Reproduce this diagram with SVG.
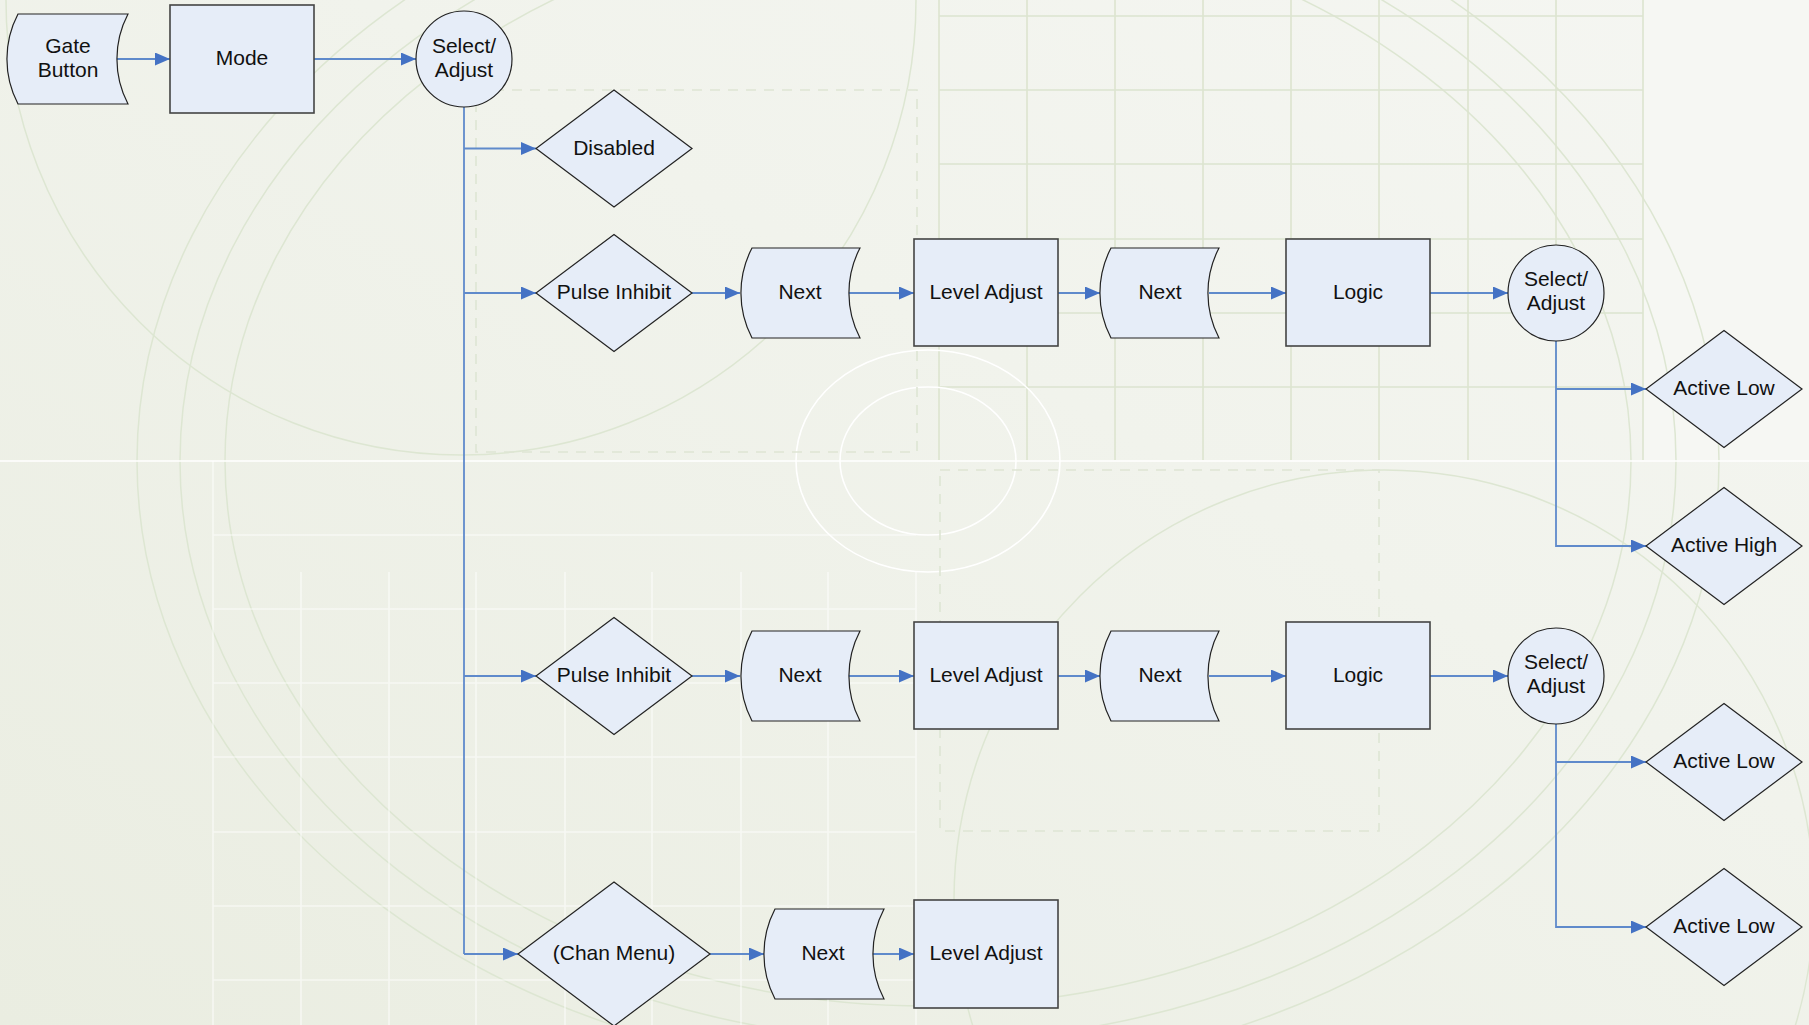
<svg xmlns="http://www.w3.org/2000/svg" width="1809" height="1025" viewBox="0 0 1809 1025">
<defs>
<linearGradient id="bg" x1="0" y1="1" x2="1" y2="0">
<stop offset="0" stop-color="#EAEDE1"/>
<stop offset="0.6" stop-color="#F1F3EC"/>
<stop offset="1" stop-color="#F5F6F2"/>
</linearGradient>
<marker id="ah" markerWidth="15" markerHeight="13" refX="15" refY="6.5" orient="auto" markerUnits="userSpaceOnUse">
<path d="M0,0 L15,6.5 L0,13 Z" fill="#4472C4"/>
</marker>
</defs>
<style>
.n{fill:#E6EDF8;stroke:#222;stroke-width:1.2}
.r{fill:#E6EDF8;stroke:#444;stroke-width:1.6}
.t{font-family:"Liberation Sans",Arial,sans-serif;font-size:21px;fill:#111;text-anchor:middle}
.c{fill:none;stroke:#5F8ACB;stroke-width:1.8}
.ca{fill:none;stroke:#5F8ACB;stroke-width:1.8;marker-end:url(#ah)}
.g{fill:none;stroke:#DCE4CF;stroke-width:1.6}
.w{fill:none;stroke:#FFFFFF;stroke-width:1.6;stroke-opacity:0.55}
.we{fill:none;stroke:#FFFFFF;stroke-width:1.6}
.arc{fill:none;stroke:#DDE6D2;stroke-width:1.5}
.d{fill:none;stroke:#DEE5D4;stroke-width:1.6;stroke-dasharray:10 8}
</style>
<g id="background">
<rect x="0" y="0" width="1809" height="1025" fill="url(#bg)"/>
<rect x="1643" y="0" width="166" height="460" fill="#F6F7F3"/>
<circle class="arc" cx="461" cy="0" r="455"/>
<circle class="arc" cx="1384" cy="900" r="430"/>
<ellipse class="arc" cx="928" cy="461" rx="703" ry="545"/>
<ellipse class="arc" cx="928" cy="461" rx="748" ry="580"/>
<ellipse class="arc" cx="928" cy="461" rx="791" ry="615"/>
<path class="g" d="M939,0V460M1027,0V460M1115,0V460M1203,0V460M1291,0V460M1379,0V460M1468,0V460M1556,0V460M1643,0V460M939,16H1643M939,90H1643M939,164H1643M939,239H1643M939,313H1643M939,387H1643"/>
<path class="we" d="M0,461H1809"/>
<path class="w" d="M213,461V1025M301,572V1025M389,572V1025M476,572V1025M565,572V1025M652,572V1025M741,572V1025M828,572V1025M916,572V1025M213,535H916M213,609H916M213,683H916M213,757H916M213,832H916M213,906H916M213,980H916"/>
<ellipse class="we" cx="928" cy="461" rx="132" ry="111"/>
<ellipse class="we" cx="928" cy="461" rx="88" ry="74"/>
<path class="d" d="M476,90H917V452H476Z"/>
<path class="d" d="M940,470H1379V831H940Z"/>
</g>
<g id="connectors">
<path class="ca" d="M117,59H170"/>
<path class="ca" d="M314,59H416"/>
<path class="c" d="M464,107V954"/>
<path class="ca" d="M464,148.5H536"/>
<path class="ca" d="M464,293H536"/>
<path class="ca" d="M464,676H536"/>
<path class="ca" d="M464,954H518"/>
<path class="ca" d="M692,293H740"/>
<path class="ca" d="M849,293H914"/>
<path class="ca" d="M1058,293H1100"/>
<path class="ca" d="M1209,293H1286"/>
<path class="ca" d="M1430,293H1508"/>
<path class="ca" d="M1556,341V546H1646"/>
<path class="ca" d="M1556,389H1646"/>
<path class="ca" d="M692,676H740"/>
<path class="ca" d="M849,676H914"/>
<path class="ca" d="M1058,676H1100"/>
<path class="ca" d="M1209,676H1286"/>
<path class="ca" d="M1430,676H1508"/>
<path class="ca" d="M1556,724V927H1646"/>
<path class="ca" d="M1556,762H1646"/>
<path class="ca" d="M710,954H764"/>
<path class="ca" d="M873,954H914"/>
</g>
<g id="gate-button">
<path class="n" d="M18,14H128A97 97 0 0 0 128,104H18A97 97 0 0 1 18,14Z"/>
<text class="t" x="68" y="52.5">Gate</text>
<text class="t" x="68" y="76.5">Button</text>
</g>
<g id="mode">
<rect class="r" x="170" y="5" width="144" height="108"/>
<text class="t" x="242" y="64.5">Mode</text>
</g>
<g id="select-adjust-1">
<circle class="n" cx="464" cy="59" r="48"/>
<text class="t" x="464" y="52.5">Select/</text>
<text class="t" x="464" y="76.5">Adjust</text>
</g>
<g id="disabled">
<path class="n" d="M614,90L692,148.5L614,207L536,148.5Z"/>
<text class="t" x="614" y="154.5">Disabled</text>
</g>
<g id="pulse-inhibit-1">
<path class="n" d="M614,234.5L692,293L614,351.5L536,293Z"/>
<text class="t" x="614" y="298.5">Pulse Inhibit</text>
</g>
<g id="next-1a">
<path class="n" d="M752,248H860A97 97 0 0 0 860,338H752A97 97 0 0 1 752,248Z"/>
<text class="t" x="800" y="298.5">Next</text>
</g>
<g id="level-adjust-1">
<rect class="r" x="914" y="239" width="144" height="107"/>
<text class="t" x="986" y="298.5">Level Adjust</text>
</g>
<g id="next-1b">
<path class="n" d="M1111,248H1219A97 97 0 0 0 1219,338H1111A97 97 0 0 1 1111,248Z"/>
<text class="t" x="1160" y="298.5">Next</text>
</g>
<g id="logic-1">
<rect class="r" x="1286" y="239" width="144" height="107"/>
<text class="t" x="1358" y="298.5">Logic</text>
</g>
<g id="select-adjust-2">
<circle class="n" cx="1556" cy="293" r="48"/>
<text class="t" x="1556" y="286">Select/</text>
<text class="t" x="1556" y="310">Adjust</text>
</g>
<g id="active-low-1">
<path class="n" d="M1724,330.5L1802,389L1724,447.5L1646,389Z"/>
<text class="t" x="1724" y="394.5">Active Low</text>
</g>
<g id="active-high-1">
<path class="n" d="M1724,487.5L1802,546L1724,604.5L1646,546Z"/>
<text class="t" x="1724" y="551.5">Active High</text>
</g>
<g id="pulse-inhibit-2">
<path class="n" d="M614,617.5L692,676L614,734.5L536,676Z"/>
<text class="t" x="614" y="681.5">Pulse Inhibit</text>
</g>
<g id="next-2a">
<path class="n" d="M752,631H860A97 97 0 0 0 860,721H752A97 97 0 0 1 752,631Z"/>
<text class="t" x="800" y="681.5">Next</text>
</g>
<g id="level-adjust-2">
<rect class="r" x="914" y="622" width="144" height="107"/>
<text class="t" x="986" y="681.5">Level Adjust</text>
</g>
<g id="next-2b">
<path class="n" d="M1111,631H1219A97 97 0 0 0 1219,721H1111A97 97 0 0 1 1111,631Z"/>
<text class="t" x="1160" y="681.5">Next</text>
</g>
<g id="logic-2">
<rect class="r" x="1286" y="622" width="144" height="107"/>
<text class="t" x="1358" y="681.5">Logic</text>
</g>
<g id="select-adjust-3">
<circle class="n" cx="1556" cy="676" r="48"/>
<text class="t" x="1556" y="669">Select/</text>
<text class="t" x="1556" y="693">Adjust</text>
</g>
<g id="active-low-2">
<path class="n" d="M1724,703.5L1802,762L1724,820.5L1646,762Z"/>
<text class="t" x="1724" y="767.5">Active Low</text>
</g>
<g id="active-low-3">
<path class="n" d="M1724,868.5L1802,927L1724,985.5L1646,927Z"/>
<text class="t" x="1724" y="932.5">Active Low</text>
</g>
<g id="chan-menu">
<path class="n" d="M614,882L710,954L614,1026L518,954Z"/>
<text class="t" x="614" y="959.5">(Chan Menu)</text>
</g>
<g id="next-3">
<path class="n" d="M775,909H884A97 97 0 0 0 884,999H775A97 97 0 0 1 775,909Z"/>
<text class="t" x="823" y="959.5">Next</text>
</g>
<g id="level-adjust-3">
<rect class="r" x="914" y="900" width="144" height="108"/>
<text class="t" x="986" y="959.5">Level Adjust</text>
</g>
</svg>
